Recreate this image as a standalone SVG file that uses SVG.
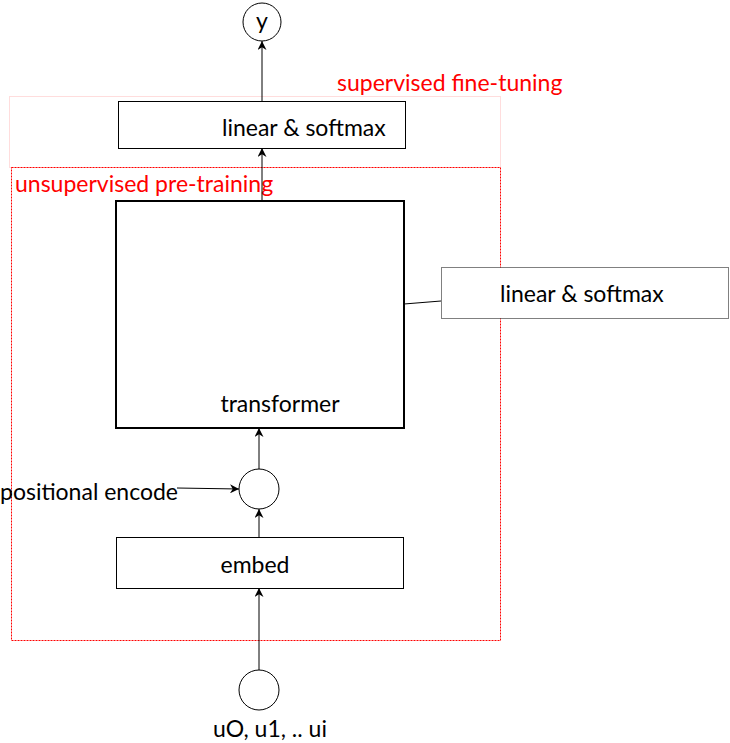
<svg xmlns="http://www.w3.org/2000/svg" width="730" height="743" viewBox="0 0 730 743">
<defs>
<style>
.box{fill:#fff;stroke:#000;stroke-width:1}
.t{font-family:Lato,"Open Sans","Liberation Sans",sans-serif;font-size:23px;fill:#000}
.r{font-family:Lato,"Open Sans","Liberation Sans",sans-serif;font-size:23px;fill:#f00}
.c{fill:#fff;stroke:#000;stroke-width:1}
.ln{stroke:#000;stroke-width:1;fill:none}
</style>
<marker id="ah" viewBox="0 0 10 10" refX="10" refY="5" markerWidth="9" markerHeight="9" orient="auto" markerUnits="userSpaceOnUse">
<path d="M0,0 L10,5 L0,10 L3,5 Z" fill="#000"/>
</marker>
</defs>
<rect width="730" height="743" fill="#fff"/>
<g id="supervised">
<rect x="9.5" y="96.5" width="491" height="71" fill="none" stroke="#fbb" stroke-width="1" stroke-dasharray="1,1"/>
<text class="r" x="337" y="91">supervised fine-tuning</text>
</g>
<g id="unsupervised">
<rect x="11.5" y="167.5" width="489" height="473" fill="none" stroke="#f00" stroke-width="1" stroke-dasharray="2,1"/>
<text class="r" x="15" y="192">unsupervised pre-training</text>
</g>
<g id="connectors">
<line class="ln" x1="262" y1="101" x2="262" y2="41" marker-end="url(#ah)"/>
<line class="ln" x1="262" y1="201" x2="262" y2="148" marker-end="url(#ah)"/>
<line class="ln" x1="259" y1="469" x2="259" y2="428" marker-end="url(#ah)"/>
<line class="ln" x1="259" y1="537" x2="259" y2="509" marker-end="url(#ah)"/>
<line class="ln" x1="259" y1="670" x2="259" y2="588" marker-end="url(#ah)"/>
<line class="ln" x1="177" y1="488" x2="239" y2="489" marker-end="url(#ah)"/>
<line class="ln" x1="404" y1="304" x2="441" y2="301"/>
</g>
<g id="y">
<circle class="c" cx="262" cy="22" r="19"/>
<text class="t" x="262" y="29" text-anchor="middle">y</text>
</g>
<g id="linear1">
<rect class="box" x="118.5" y="101.5" width="287" height="47"/>
<text class="t" x="222" y="136">linear &amp; softmax</text>
</g>
<g id="transformer">
<rect x="116" y="201" width="288" height="227" fill="#fff" stroke="#000" stroke-width="2"/>
<text class="t" x="280" y="412" text-anchor="middle">transformer</text>
</g>
<g id="linear2">
<rect x="441.5" y="267.5" width="287" height="51" fill="#fff" stroke="#000" stroke-width="1" stroke-dasharray="1,1"/>
<text class="t" x="500" y="302">linear &amp; softmax</text>
</g>
<g id="add">
<circle class="c" cx="259" cy="489" r="20"/>
</g>
<g id="posenc">
<text class="t" x="0" y="500">positional encode</text>
</g>
<g id="embed">
<rect class="box" x="116.5" y="537.5" width="287" height="51"/>
<text class="t" x="255" y="573" text-anchor="middle">embed</text>
</g>
<g id="input">
<circle class="c" cx="259" cy="690" r="20"/>
<text class="t" x="270" y="737" text-anchor="middle">uO, u1, .. ui</text>
</g>
</svg>
